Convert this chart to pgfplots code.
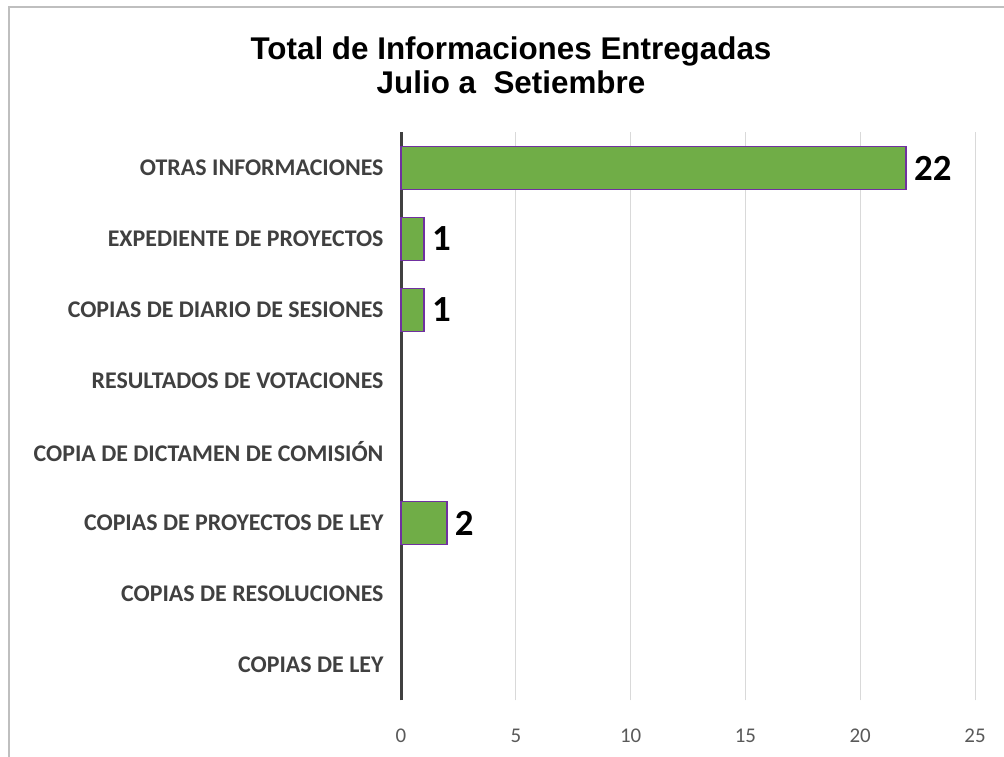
\documentclass[border=0pt]{standalone}
\usepackage{pgfplots}
\pgfplotsset{compat=1.18}
\usepackage{fontspec}
\setmainfont{Carlito}
\newfontfamily\titlefont{Liberation Sans}
\definecolor{barfill}{HTML}{70AD47}
\definecolor{barline}{HTML}{7030A0}
\definecolor{axisdark}{HTML}{404040}
\definecolor{ticktext}{HTML}{595959}
\definecolor{gridc}{HTML}{D9D9D9}
\definecolor{framec}{HTML}{BFBFBF}
\begin{document}
\begin{tikzpicture}[x=1bp,y=1bp]
\useasboundingbox (0,0) rectangle (1004,757);
\draw[framec, line width=1.5bp] (9,0) -- (9,750) -- (1004,750);
\node[font=\titlefont\bfseries\fontsize{31.5}{34}\selectfont, align=center, inner sep=0pt] at (511,692) {Total de Informaciones Entregadas\\Julio a\ \ Setiembre};
\begin{axis}[
  at={(401bp,56.5bp)}, anchor=south west,
  width=574bp, height=568bp, scale only axis,
  xbar, bar width=43bp,
  xmin=0, xmax=25, ymin=-0.5, ymax=7.5,
  xtick={0,5,10,15,20,25},
  ytick={0,1,2,3,4,5,6,7},
  yticklabels={COPIAS DE LEY, COPIAS DE RESOLUCIONES, COPIAS DE PROYECTOS DE LEY, COPIA DE DICTAMEN DE COMISIÓN, RESULTADOS DE VOTACIONES, COPIAS DE DIARIO DE SESIONES, EXPEDIENTE DE PROYECTOS, {OTRAS INFORMACIONES\hspace{5bp}}},
  /pgf/number format/assume math mode=true,
  axis x line*=bottom, axis y line*=left,
  x axis line style={draw=none},
  y axis line style={axisdark, line width=3bp, -},
  major tick length=0pt,
  xmajorgrids, grid style={gridc, line width=1bp},
  xticklabel style={font=\fontsize{21}{25}\selectfont, text=ticktext, yshift=-25bp},
  yticklabel style={font=\bfseries\fontsize{24}{28}\selectfont, text=axisdark, xshift=-14bp},
  nodes near coords,
  nodes near coords style={font=\bfseries\fontsize{37}{42}\selectfont, text=black, anchor=west, xshift=4bp},
  clip=false,
]
\addplot[fill=barfill, draw=barline, line width=1.5bp] coordinates {(22,7) (1,6) (1,5) (2,2)};
\end{axis}
\end{tikzpicture}
\end{document}
